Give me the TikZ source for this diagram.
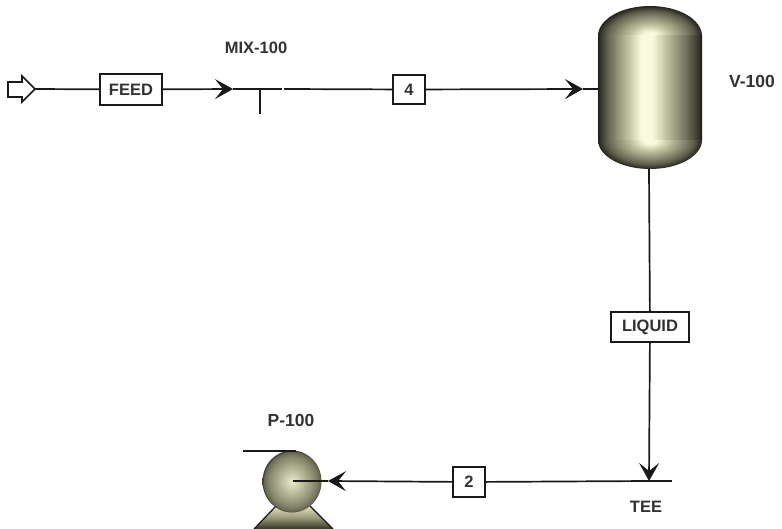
\documentclass[tikz,border=0pt]{standalone}
\usepackage{fontspec}
\setmainfont{Liberation Sans}
\usetikzlibrary{arrows.meta}
\definecolor{ink}{RGB}{25,25,25}
\definecolor{lab}{RGB}{50,50,50}
\pgfdeclarehorizontalshading{vesselbody}{100bp}{
 rgb(0bp)=(0.14,0.14,0.11);
 rgb(25bp)=(0.14,0.14,0.11);
 rgb(29bp)=(0.36,0.36,0.29);
 rgb(34bp)=(0.56,0.56,0.46);
 rgb(39bp)=(0.74,0.74,0.62);
 rgb(44bp)=(0.92,0.92,0.8);
 rgb(46bp)=(0.98,0.98,0.87);
 rgb(51bp)=(0.98,0.98,0.87);
 rgb(54bp)=(0.88,0.88,0.76);
 rgb(60bp)=(0.68,0.68,0.57);
 rgb(65bp)=(0.52,0.52,0.43);
 rgb(70bp)=(0.34,0.34,0.27);
 rgb(75bp)=(0.14,0.14,0.11);
 rgb(100bp)=(0.14,0.14,0.11)}
\pgfdeclareradialshading{headshade}{\pgfpoint{0bp}{0bp}}{
 rgb(0bp)=(0.98,0.98,0.87);
 rgb(3bp)=(0.98,0.98,0.87);
 rgb(6bp)=(0.88,0.88,0.76);
 rgb(11bp)=(0.7,0.7,0.58);
 rgb(16bp)=(0.54,0.54,0.44);
 rgb(21bp)=(0.36,0.36,0.29);
 rgb(25bp)=(0.14,0.14,0.11);
 rgb(50bp)=(0.14,0.14,0.11)}
\pgfdeclareradialshading{pumpshade}{\pgfpoint{0bp}{0bp}}{
 rgb(0bp)=(0.92,0.92,0.82);
 rgb(10bp)=(0.72,0.72,0.6);
 rgb(20bp)=(0.52,0.52,0.42);
 rgb(24bp)=(0.4,0.4,0.32);
 rgb(25bp)=(0.22,0.22,0.18);
 rgb(50bp)=(0.22,0.22,0.18)}
\pgfdeclareverticalshading{baseshade}{100bp}{
 rgb(0bp)=(0.25,0.25,0.18);
 rgb(28bp)=(0.25,0.25,0.18);
 rgb(50bp)=(0.62,0.62,0.5);
 rgb(70bp)=(0.85,0.85,0.72);
 rgb(100bp)=(0.85,0.85,0.72)}
\tikzset{
 x=1pt,y=-1pt,
 stream/.style={draw=ink,line width=1.7pt},
 flow/.style={stream,-{Stealth[length=18pt,width=20pt,inset=8pt]}},
 tag/.style={draw=ink,fill=white,line width=1.8pt,font=\bfseries\fontsize{16.5}{17}\selectfont,text=lab,inner sep=0pt,anchor=center},
 lbl/.style={font=\bfseries\fontsize{16.5}{17}\selectfont,text=lab,inner sep=0pt,anchor=center},
 lblbig/.style={font=\bfseries\fontsize{17.5}{18}\selectfont,text=lab,inner sep=0pt,anchor=center},
}
\begin{document}
\begin{tikzpicture}
\useasboundingbox (0,0) rectangle (782,529);
\fill[white] (0,0) rectangle (782,529);
% vessel
\shade[shading=headshade] (650,36) ellipse (52 and 30);
\shade[shading=headshade] (650,140) ellipse (52 and 29);
\shade[shading=vesselbody] (598,36) rectangle (702,140);
\draw[ink,line width=1.5pt] (598.5,36) -- (598.5,140) (701.5,36) -- (701.5,140);
% pump
\begin{scope}
 \clip (254,529) -- (276,505) -- (310,505) -- (333,529) -- cycle;
 \shade[shading=baseshade] (250,505) rectangle (336,529);
\end{scope}
\draw[ink,line width=1.2pt] (254,529) -- (276,506) (333,529) -- (310,506);
\shade[shading=pumpshade] (292,481.5) ellipse (29.5 and 31);
\draw[ink,line width=1.8pt] (243,451) -- (296,451);
% nodes
\coordinate (v-in) at (598,89);
\coordinate (v-out) at (649,169);
\coordinate (p-in) at (293,481);
\coordinate (mix-w) at (233,89);
\coordinate (mix-e) at (284,89);
\coordinate (mix-c) at (260,89);
\coordinate (mix-s) at (260,114);
\coordinate (tee-c) at (649,481);
\coordinate (tee-e) at (672,481);
\coordinate (arrow4) at (583,89);
\coordinate (arrowp) at (328,481);
\coordinate (src) at (35,89);
\node[tag,minimum width=62pt,minimum height=31pt] (feed) at (131,89.5) {FEED};
\node[tag,minimum width=32pt,minimum height=29pt] (s4) at (409,89.5) {4};
\node[tag,minimum width=78pt,minimum height=30pt] (liq) at (650,327) {LIQUID};
\node[tag,minimum width=32pt,minimum height=30pt] (s2) at (469,482) {2};
\node[lbl] (mixl) at (256,48) {MIX-100};
\node[lblbig] (vl) at (752,81) {V-100};
\node[lblbig] (pl) at (291,420) {P-100};
\node[lbl] (teel) at (646,507) {TEE};
% source arrow
\draw[ink,line width=1.7pt,fill=white,line join=miter] (8,82) -- (22,82) -- (22,76) -- (35,89) -- (22,102) -- (22,97) -- (8,97) -- cycle;
% streams
\draw[stream] (src) -- (feed);
\draw[flow] (feed) -- (mix-w);
\draw[stream] (mix-w) -- (282,89);
\draw[stream] (mix-c) -- (mix-s);
\draw[stream] (mix-e) -- (s4);
\draw[flow] (s4) -- (arrow4);
\draw[stream] (arrow4) -- (v-in);
\draw[stream] (v-out) -- (liq);
\draw[flow] (liq) -- (tee-c);
\draw[stream] (tee-c) -- (tee-e);
\draw[stream] (tee-c) -- (s2);
\draw[flow] (s2) -- (arrowp);
\draw[stream] (arrowp) -- (p-in);
\end{tikzpicture}
\end{document}
